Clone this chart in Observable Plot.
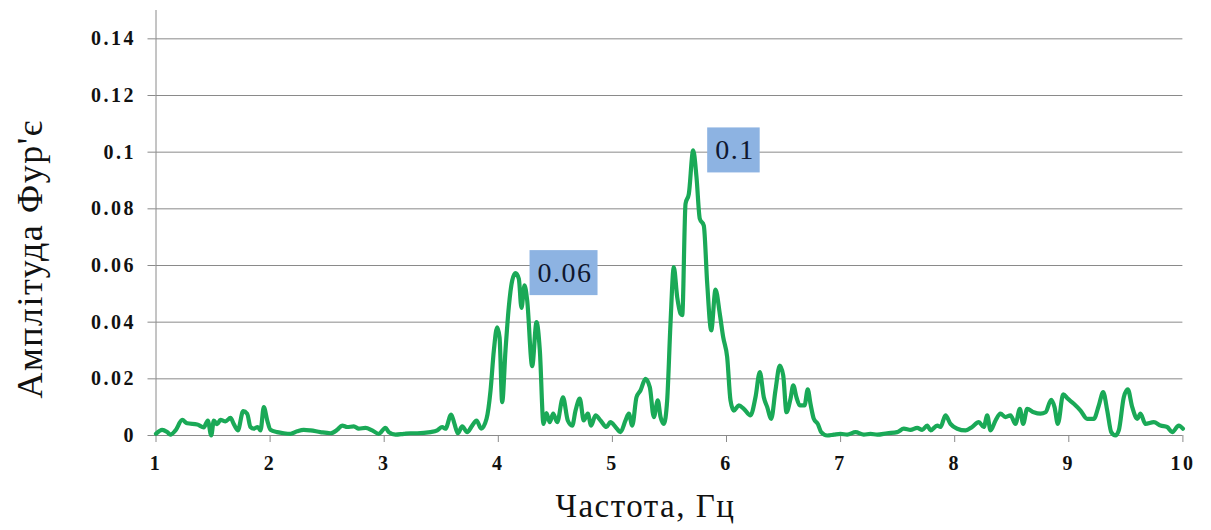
<!DOCTYPE html>
<html>
<head>
<meta charset="utf-8">
<script src="https://cdn.jsdelivr.net/npm/d3@7"></script>
<script src="https://cdn.jsdelivr.net/npm/@observablehq/plot@0.6"></script>
<style>
  html, body { margin: 0; padding: 0; background: #fff; }
  #chart svg text { font-family: "Liberation Serif", "Times New Roman", serif; }
  #chart g[aria-label="y-axis tick label"] text,
  #chart g[aria-label="x-axis tick label"] text { letter-spacing: 2.5px; }
  #chart text.peak { letter-spacing: 4.5px; }
  #chart g[aria-label="text"] text { letter-spacing: 1.5px; }
</style>
</head>
<body>
<div id="chart"></div>
<script>
// Frequency (Hz)
const freq = [
  1.000,1.054,1.098,1.127,1.171,1.230,1.273,1.361,1.419,1.454,
  1.484,1.507,1.536,1.565,1.609,1.653,1.682,1.717,1.764,1.799,
  1.828,1.857,1.892,1.916,1.945,1.975,2.003,2.062,2.120,2.179,
  2.238,2.295,2.354,2.441,2.529,2.588,2.632,2.676,2.734,2.777,
  2.836,2.895,2.953,3.011,3.040,3.099,3.172,3.230,3.289,3.406,
  3.465,3.508,3.537,3.587,3.616,3.645,3.684,3.727,3.771,3.809,
  3.850,3.897,3.932,3.961,3.990,4.011,4.034,4.063,4.092,4.122,
  4.151,4.180,4.203,4.230,4.253,4.297,4.335,4.364,4.396,4.422,
  4.451,4.481,4.516,4.567,4.609,4.648,4.677,4.714,4.749,4.784,
  4.814,4.852,4.896,4.948,4.983,5.027,5.071,5.115,5.144,5.174,
  5.211,5.246,5.290,5.328,5.363,5.398,5.422,5.451,5.480,5.509,
  5.538,5.568,5.597,5.612,5.641,5.670,5.708,5.737,5.766,5.801,
  5.831,5.866,5.904,5.941,5.971,6.006,6.035,6.064,6.108,6.152,
  6.210,6.254,6.292,6.327,6.357,6.392,6.429,6.467,6.497,6.526,
  6.561,6.585,6.613,6.642,6.684,6.712,6.736,6.765,6.800,6.830,
  6.882,6.940,6.999,7.058,7.131,7.203,7.262,7.321,7.408,7.496,
  7.554,7.613,7.671,7.715,7.759,7.788,7.847,7.876,7.919,7.963,
  8.022,8.095,8.153,8.211,8.255,8.285,8.314,8.358,8.401,8.445,
  8.489,8.533,8.571,8.600,8.635,8.693,8.752,8.796,8.846,8.875,
  8.904,8.951,8.991,9.044,9.103,9.161,9.219,9.263,9.301,9.337,
  9.372,9.409,9.438,9.482,9.517,9.556,9.600,9.628,9.672,9.745,
  9.804,9.862,9.906,9.964,10.000
];
// Fourier amplitude
const amp = [
  0.0006,0.0020,0.0012,0.0003,0.0018,0.0055,0.0043,0.0039,0.0029,0.0053,
  0.0000,0.0053,0.0040,0.0055,0.0050,0.0062,0.0040,0.0018,0.0086,0.0077,
  0.0030,0.0024,0.0030,0.0018,0.0100,0.0053,0.0020,0.0012,0.0008,0.0006,
  0.0015,0.0020,0.0018,0.0012,0.0008,0.0020,0.0035,0.0030,0.0032,0.0024,
  0.0027,0.0018,0.0006,0.0027,0.0012,0.0003,0.0006,0.0008,0.0008,0.0012,
  0.0018,0.0030,0.0024,0.0074,0.0041,0.0008,0.0032,0.0012,0.0035,0.0053,
  0.0024,0.0059,0.0159,0.0300,0.0382,0.0347,0.0118,0.0300,0.0453,0.0547,
  0.0573,0.0553,0.0450,0.0530,0.0477,0.0245,0.0400,0.0300,0.0041,0.0079,
  0.0047,0.0077,0.0047,0.0135,0.0053,0.0035,0.0088,0.0130,0.0053,0.0077,
  0.0035,0.0071,0.0053,0.0030,0.0047,0.0030,0.0012,0.0053,0.0077,0.0035,
  0.0135,0.0159,0.0200,0.0170,0.0065,0.0124,0.0065,0.0041,0.0124,0.0394,
  0.0594,0.0488,0.0430,0.0425,0.0818,0.0853,0.1006,0.0912,0.0765,0.0741,
  0.0536,0.0371,0.0515,0.0430,0.0347,0.0276,0.0124,0.0088,0.0106,0.0094,
  0.0071,0.0135,0.0224,0.0135,0.0100,0.0059,0.0159,0.0247,0.0212,0.0082,
  0.0130,0.0177,0.0135,0.0106,0.0106,0.0163,0.0112,0.0059,0.0041,0.0012,
  0.0000,0.0003,0.0006,0.0003,0.0012,0.0003,0.0006,0.0003,0.0008,0.0012,
  0.0024,0.0020,0.0027,0.0020,0.0035,0.0018,0.0035,0.0030,0.0071,0.0041,
  0.0024,0.0018,0.0030,0.0047,0.0030,0.0071,0.0018,0.0053,0.0077,0.0065,
  0.0071,0.0041,0.0094,0.0041,0.0094,0.0082,0.0077,0.0082,0.0126,0.0100,
  0.0041,0.0145,0.0130,0.0112,0.0088,0.0059,0.0059,0.0106,0.0153,0.0088,
  0.0012,0.0000,0.0018,0.0135,0.0163,0.0100,0.0059,0.0077,0.0041,0.0047,
  0.0035,0.0030,0.0012,0.0035,0.0024
];

const xTicks = [1, 2, 3, 4, 5, 6, 7, 8, 9, 10];
const yTicks = [0, 0.02, 0.04, 0.06, 0.08, 0.1, 0.12, 0.14];

const peakFreq = [4.151, 5.708];
const peakAmp = [0.0573, 0.1006];
const peakLabels = ["0.06", "0.1"];

const xTitle = "Частота, Гц";
const yTitle = "Амплітуда Фур'є";

const series = freq.map((f, i) => ({f, a: amp[i]}));
const peaks = peakFreq.map((f, i) => ({f, a: peakAmp[i], label: peakLabels[i]}));

const gridColor = "#8a8a8a";
const serif = "Liberation Serif";

const chart = Plot.plot({
  width: 1211,
  height: 530,
  marginLeft: 155.5,
  marginRight: 28.6,
  marginTop: 10,
  marginBottom: 95,
  style: {fontFamily: serif, background: "#fff", color: "#111"},
  x: {domain: [1, 10]},
  y: {domain: [0, 0.15]},
  marks: [
    Plot.gridY(yTicks, {stroke: gridColor, strokeOpacity: 1, strokeWidth: 1}),
    Plot.ruleX([1], {stroke: gridColor, strokeWidth: 1}),
    Plot.axisY(yTicks, {
      tickSize: 8, tickPadding: 12, stroke: gridColor, fill: "#111",
      fontSize: 20, fontWeight: "bold", tickFormat: d => String(d), label: null
    }),
    Plot.axisX(xTicks, {
      tickSize: 7, tickPadding: 13, stroke: gridColor, fill: "#111",
      fontSize: 20, fontWeight: "bold", tickFormat: d => String(d), label: null
    }),
    Plot.line(series, {x: "f", y: "a", stroke: "#1aa957", strokeWidth: 4.2, curve: "monotone-x", strokeLinejoin: "round"}),
    Plot.text(peaks, {
      x: "f", y: "a", text: "label", dx: 22, textAnchor: "start", lineAnchor: "middle",
      fontSize: 28, fontFamily: serif, fill: "#101830"
    }),
    Plot.text([xTitle], {frameAnchor: "bottom", textAnchor: "middle", dx: -24, dy: 71, lineAnchor: "middle", fontSize: 33, fontFamily: serif, fill: "#111"}),
    Plot.text([yTitle], {frameAnchor: "left", textAnchor: "middle", rotate: -90, dx: -126, dy: 36, lineAnchor: "middle", fontSize: 36, fontFamily: serif, fill: "#111"})
  ]
});

document.getElementById("chart").appendChild(chart);

// Light-blue boxes behind the peak labels, sized from each label's own extent
const ns = "http://www.w3.org/2000/svg";
const labelSet = new Set(peakLabels);
chart.querySelectorAll('g[aria-label="text"] text').forEach(t => {
  if (!labelSet.has(t.textContent)) return;
  t.classList.add("peak");
  const b = t.getBBox();
  const r = document.createElementNS(ns, "rect");
  r.setAttribute("x", b.x - 8);
  r.setAttribute("y", b.y - 7);
  r.setAttribute("width", b.width + 13);
  r.setAttribute("height", b.height + 14);
  r.setAttribute("fill", "#8db3e2");
  const tr = t.getAttribute("transform");
  if (tr) r.setAttribute("transform", tr);
  t.parentNode.insertBefore(r, t);
});
</script>
</body>
</html>
